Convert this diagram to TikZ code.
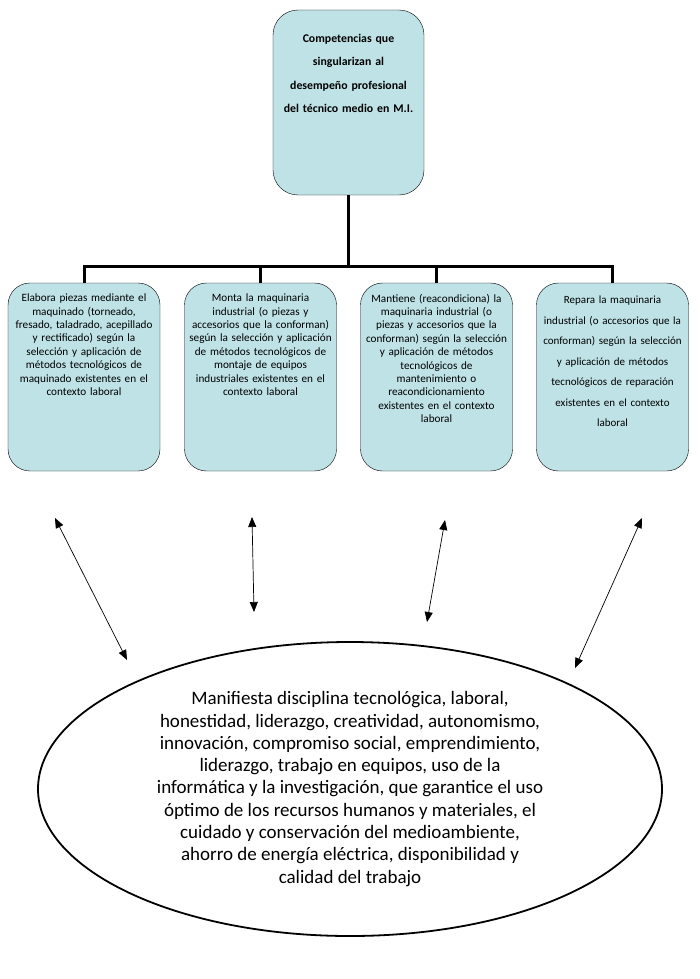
\documentclass[tikz,border=0pt]{standalone}
\usepackage{fontspec}
\setmainfont{Carlito}[WordSpace=0.7]
\newfontfamily\ovalfont{Carlito}
\usetikzlibrary{positioning,shapes.geometric,arrows.meta}
\definecolor{cardblue}{RGB}{190,226,230}

\begin{document}
\begin{tikzpicture}[
    x=1pt, y=-1pt,
    card/.style={draw=black, fill=cardblue, rounded corners=22pt, minimum width=152pt, minimum height=188pt, inner sep=0},
    cardtext/.style={text width=150pt, align=center, inner sep=0, font=\fontsize{11.2}{13.4}\selectfont},
    branch/.style={line width=3pt},
    link/.style={{Triangle[length=10pt,width=8pt]}-{Triangle[length=10pt,width=8pt]}, line width=0.7pt}
  ]
  \useasboundingbox (0,0) rectangle (700,979);

  % Top competence
  \node[card, rounded corners=25pt, minimum width=151pt, minimum height=185pt] (top) at (348.5,102.5) {};
  \node[cardtext, font=\bfseries\fontsize{11.8}{23.5}\selectfont, below=24pt of top.north] (toptext) {Competencias que\\ singularizan al\\ desempeño profesional\\ del técnico medio en M.I.};

  % Four competences
  \node[card] (c1) at (84,377) {};
  \node[cardtext, below=11pt of c1.north] (t1) {Elabora piezas mediante el\\ maquinado (torneado,\\ fresado, taladrado, acepillado\\ y rectificado) según la\\ selección y aplicación de\\ métodos tecnológicos de\\ maquinado existentes en el\\ contexto laboral};

  \node[card] (c2) at (260.5,377) {};
  \node[cardtext, below=11pt of c2.north] (t2) {Monta la maquinaria\\ industrial (o piezas y\\ accesorios que la conforman)\\ según la selección y aplicación\\ de métodos tecnológicos de\\ montaje de equipos\\ industriales existentes en el\\ contexto laboral};

  \node[card] (c3) at (436.5,377) {};
  \node[cardtext, below=11pt of c3.north] (t3) {Mantiene (reacondiciona) la\\ maquinaria industrial (o\\ piezas y accesorios que la\\ conforman) según la selección\\ y aplicación de métodos\\ tecnológicos de\\ mantenimiento o\\ reacondicionamiento\\ existentes en el contexto\\ laboral};

  \node[card] (c4) at (612.5,377) {};
  \node[cardtext, font=\fontsize{11}{20.5}\selectfont, below=13pt of c4.north] (t4) {Repara la maquinaria\\ industrial (o accesorios que la\\ conforman) según la selección\\ y aplicación de métodos\\ tecnológicos de reparación\\ existentes en el contexto\\ laboral};

  % Tree connectors
  \coordinate (hub) at (348.5,266);
  \draw[branch] (top.south) -- (hub);
  \foreach \i in {1,...,4}
    \draw[branch] (hub) -| (c\i.north);

  % Attitudes
  \node[ellipse, draw, line width=1.8pt, minimum width=624pt, minimum height=294pt, inner sep=0, align=center, font=\ovalfont\fontsize{19}{22.3}\selectfont] (goal) at (350,789) {Manifiesta disciplina  tecnológica, laboral,\\ honestidad, liderazgo, creatividad, autonomismo,\\ innovación, compromiso social, emprendimiento,\\ liderazgo, trabajo en equipos, uso de la\\ informática y la investigación, que garantice el uso\\ óptimo de los recursos humanos y materiales, el\\ cuidado y conservación del medioambiente,\\ ahorro de energía eléctrica, disponibilidad y\\ calidad del trabajo};

  % Double arrows between competences and attitudes
  \foreach \xa/\ya/\xb/\yb [count=\i] in {55/518/127/660, 252/517/254/612, 445/520/427/622, 642/518/575/668} {
    \coordinate (p\i) at (\xa,\ya);
    \coordinate (q\i) at (\xb,\yb);
    \draw[link] (p\i) -- (q\i);
  }
\end{tikzpicture}
\end{document}
